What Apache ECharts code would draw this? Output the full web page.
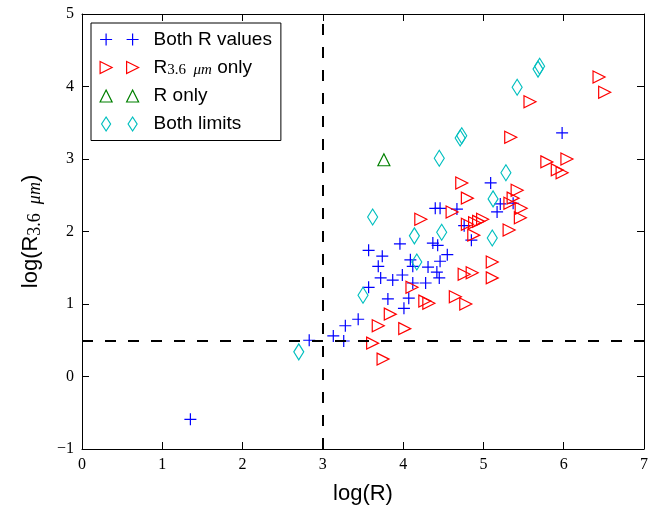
<!DOCTYPE html>
<html>
<head>
<meta charset="utf-8">
<script src="https://cdn.jsdelivr.net/npm/echarts@6/dist/echarts.min.js"></script>
<style>
html,body{margin:0;padding:0;background:#fff;}
#chart{width:660px;height:507px;}
</style>
</head>
<body>
<div id="chart"></div>
<script>
// ---- data (log R, log R_3.6um) ----
const bothRX = [1.35,2.83,3.13,3.26,3.28,3.44,3.57,3.74,3.96,4.37,3.69,3.72,3.87,3.99,3.57,3.81,4.01,4.07,4.09,4.12,4.31,4.46,4.42,4.45,4.28,4.12,4.40,4.46,4.67,5.09,5.21,5.37,5.17,4.76,4.85,4.43,4.55,5.98];
const bothRY = [-0.59,0.50,0.56,0.49,0.70,0.79,1.74,1.66,1.83,1.84,1.52,1.36,1.33,1.40,1.23,1.07,0.94,1.08,1.61,1.52,1.51,1.59,1.44,1.36,1.29,1.29,2.32,2.32,2.31,2.67,2.38,2.39,2.27,2.08,1.88,1.81,1.68,3.36];

const r36OnlyX = [6.44,6.51,5.58,5.34,5.79,6.04,5.92,5.98,4.73,4.80,5.42,5.37,5.33,5.47,5.46,5.32,4.99,4.94,4.89,4.80,4.88,4.22,4.61,5.11,5.11,4.76,4.86,4.11,4.27,4.32,4.65,4.78,3.84,3.69,4.02,3.62,3.75];
const r36OnlyY = [4.13,3.92,3.79,3.30,2.96,3.00,2.85,2.81,2.67,2.46,2.57,2.46,2.39,2.32,2.19,2.02,2.17,2.14,2.12,2.10,1.95,2.17,2.27,1.58,1.36,1.41,1.43,1.23,1.04,1.01,1.10,1.00,0.86,0.70,0.66,0.46,0.24];

const rOnlyX = [3.76];
const rOnlyY = [2.99];

const limitsX = [5.68,5.70,5.42,4.71,4.73,4.45,5.28,5.12,5.11,3.62,4.14,4.48,4.17,3.50,2.70];
const limitsY = [4.24,4.28,3.99,3.29,3.32,3.01,2.81,2.45,1.91,2.20,1.94,1.99,1.58,1.12,0.34];

const xTicks = [0,1,2,3,4,5,6,7];
const yTicks = [-1,0,1,2,3,4,5];
const refX = 3;     // vertical dashed line
const refY = 0.5;   // horizontal dashed line

const seriesNames = ['Both R values', 'R3.6 only', 'R only', 'Both limits'];

function pairs(xs, ys){ return xs.map((x,i)=>[x, ys[i]]); }

const BLUE='#0000ff', RED='#ff0000', GREEN='#008000', CYAN='#00bfbf';
const SYM = {
  cross: 'path://M6,0L6,12M0,6L12,6',
  tri: 'path://M0,0L12,6L0,12Z',
  triUp: 'path://M6,0L12,12L0,12Z',
  diamond: 'path://M5,0L10,8L5,16L0,8Z'
};
// legend icons: two markers each, common 49x14 box (includes gap before text)
const LEG = {
  cross: 'path://M0,0M6.5,1L6.5,13M0.5,7L12.5,7M33,1L33,13M27,7L39,7M49,14',
  tri: 'path://M0,0M0.5,1L12.5,7L0.5,13ZM27,1L39,7L27,13ZM49,14',
  triUp: 'path://M0,0M6.5,1L12.5,13L0.5,13ZM33,1L39,13L27,13ZM49,14',
  diamond: 'path://M0,0M6.5,0L11,7L6.5,14L2,7ZM33,0L37.5,7L33,14L28.5,7ZM49,14'
};
const CLEAR='rgba(0,0,0,0)';

function mkScatter(name, xs, ys, sym, size, col){
  return {
    name: name, type:'scatter', xAxisIndex:0, yAxisIndex:0,
    data: pairs(xs, ys), symbol: sym, symbolSize: size,
    itemStyle:{color:CLEAR, borderColor:col, borderWidth:1.2, opacity:1},
    emphasis:{disabled:true}
  };
}

const serifFont = 'Liberation Serif';
const sansFont = 'Liberation Sans';
const fmtTick = v => (v < 0 ? '\u2212' + Math.abs(v) : String(v));

const axisCommon = {
  axisLine:{show:true, onZero:false, lineStyle:{color:'#000', width:1}},
  axisTick:{show:true, inside:true, length:7, lineStyle:{color:'#000', width:1}},
  splitLine:{show:false}
};

const option = {
  animation:false,
  backgroundColor:'#fff',
  grid:{left:82, right:16, top:14, bottom:58, containLabel:false, outerBoundsMode:'none'},
  legend:{
    orient:'vertical', left:91, top:23,
    padding:[7,9,7,8],
    backgroundColor:'#fff', borderColor:'#000', borderWidth:1, borderRadius:0,
    itemWidth:49, itemHeight:14, itemGap:9,
    selectedMode:false,
    itemStyle:{borderWidth:1.2, color:CLEAR},
    textStyle:{
      fontFamily:sansFont, fontSize:19, color:'#000',
      rich:{
        n:{fontFamily:sansFont, fontSize:19, lineHeight:20, color:'#000'},
        s:{fontFamily:serifFont, fontSize:15, lineHeight:16, verticalAlign:'bottom', color:'#000'},
        si:{fontFamily:serifFont, fontStyle:'italic', fontSize:15, lineHeight:16, verticalAlign:'bottom', color:'#000'}
      }
    },
    formatter: function(name){
      if (name === 'R3.6 only') return '{n|R}{s|3.6\u2002}{si|\u03bcm}{n| only}';
      return '{n|' + name + '}';
    },
    data:[
      {name:seriesNames[0], icon:LEG.cross, itemStyle:{color:CLEAR, borderColor:BLUE, borderWidth:1.2}},
      {name:seriesNames[1], icon:LEG.tri, itemStyle:{color:CLEAR, borderColor:RED, borderWidth:1.2}},
      {name:seriesNames[2], icon:LEG.triUp, itemStyle:{color:CLEAR, borderColor:GREEN, borderWidth:1.2}},
      {name:seriesNames[3], icon:LEG.diamond, itemStyle:{color:CLEAR, borderColor:CYAN, borderWidth:1.2}}
    ]
  },
  xAxis:[
    Object.assign({}, axisCommon, {
      type:'value', position:'bottom', min:xTicks[0], max:xTicks[xTicks.length-1], interval:1,
      axisLabel:{margin:8, fontFamily:serifFont, fontSize:16, color:'#000', formatter:fmtTick},
      name:'log(R)', nameLocation:'middle', nameGap:34,
      nameTextStyle:{fontFamily:sansFont, fontSize:22, color:'#000'}
    }),
    Object.assign({}, axisCommon, {
      type:'value', position:'top', min:xTicks[0], max:xTicks[xTicks.length-1], interval:1,
      axisLabel:{show:false}
    })
  ],
  yAxis:[
    Object.assign({}, axisCommon, {
      type:'value', position:'left', min:yTicks[0], max:yTicks[yTicks.length-1], interval:1,
      axisLabel:{margin:8, fontFamily:serifFont, fontSize:16, color:'#000', formatter:fmtTick},
      name:'{n|log(R}{s|3.6\u2002}{si|\u03bcm}{n|)}', nameLocation:'middle', nameGap:38, nameRotate:90,
      nameTextStyle:{
        fontFamily:sansFont, fontSize:22, color:'#000',
        rich:{
          n:{fontFamily:sansFont, fontSize:22, lineHeight:26, color:'#000'},
          s:{fontFamily:serifFont, fontSize:18, lineHeight:19, verticalAlign:'bottom', color:'#000'},
          si:{fontFamily:serifFont, fontStyle:'italic', fontSize:18, lineHeight:19, verticalAlign:'bottom', color:'#000'}
        }
      }
    }),
    Object.assign({}, axisCommon, {
      type:'value', position:'right', min:yTicks[0], max:yTicks[yTicks.length-1], interval:1,
      axisLabel:{show:false}
    })
  ],
  series:[
    mkScatter(seriesNames[0], bothRX, bothRY, SYM.cross, [12,12], BLUE),
    mkScatter(seriesNames[1], r36OnlyX, r36OnlyY, SYM.tri, [12,12], RED),
    mkScatter(seriesNames[2], rOnlyX, rOnlyY, SYM.triUp, [12,12], GREEN),
    mkScatter(seriesNames[3], limitsX, limitsY, SYM.diamond, [10,16], CYAN),
    {
      type:'line', xAxisIndex:0, yAxisIndex:0, data:[], z:5, silent:true,
      markLine:{
        silent:true, symbol:'none', animation:false,
        label:{show:false},
        lineStyle:{color:'#000', width:2, type:[11,12]},
        emphasis:{disabled:true},
        data:[{xAxis:refX}, {yAxis:refY}]
      }
    }
  ]
};

const chart = echarts.init(document.getElementById('chart'), null, {renderer:'canvas'});
chart.setOption(option);
</script>
</body>
</html>
